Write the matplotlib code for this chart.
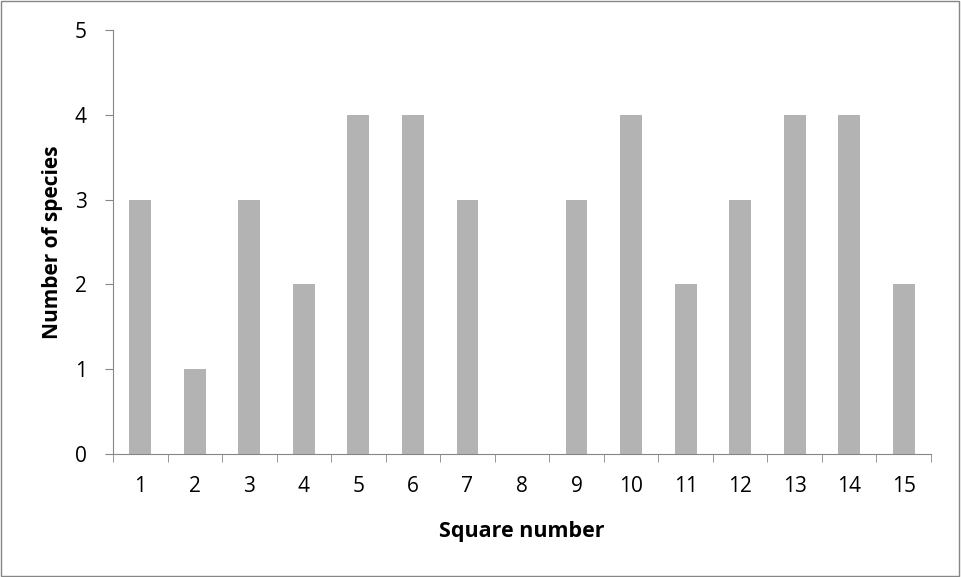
import matplotlib
matplotlib.use("Agg")
import matplotlib.pyplot as plt
from matplotlib.patches import Rectangle

squares = list(range(1, 16))
species = [3, 1, 3, 2, 4, 4, 3, 0, 3, 4, 2, 3, 4, 4, 2]
y_ticks = [0, 1, 2, 3, 4, 5]

plt.rcParams["font.family"] = ["Open Sans", "DejaVu Sans"]

fig = plt.figure(figsize=(9.61, 5.77), dpi=100)
ax = fig.add_axes([113 / 961, 1 - 454 / 577, (931 - 113) / 961, (454 - 30) / 577])

ax.bar(squares, species, width=0.4, color="#b3b3b3")
ax.set_xlim(0.5, 15.5)
ax.set_ylim(0, 5)
ax.set_yticks(y_ticks)
ax.set_xticks(squares)
ax.set_xticks([s - 0.5 for s in squares] + [15.5], minor=True)
ax.tick_params(axis="x", which="major", length=0, pad=16, labelsize=15)
ax.tick_params(axis="x", which="minor", length=6, color="#868686", direction="out")
ax.tick_params(axis="y", length=6, color="#868686", direction="out", labelsize=15, pad=13)

for side in ("top", "right"):
    ax.spines[side].set_visible(False)
for side in ("left", "bottom"):
    ax.spines[side].set_color("#868686")

ax.set_xlabel("Square number", fontsize=15.5, fontweight="bold", labelpad=17)
ax.set_ylabel("Number of species", fontsize=15, fontweight="bold", labelpad=8)

# outer chart border
fig.patches.append(Rectangle((0.001, 0.002), 0.997, 0.996, transform=fig.transFigure,
                             fill=False, edgecolor="#868686", linewidth=1))

fig.savefig("out.png", dpi=100)
